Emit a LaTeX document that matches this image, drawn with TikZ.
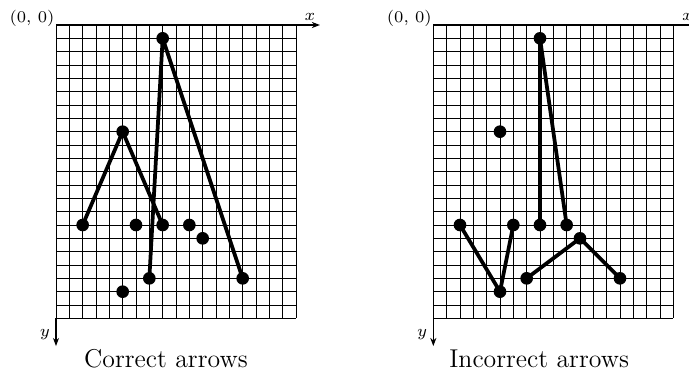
\documentclass[tikz,border=0pt]{standalone}
\usetikzlibrary{arrows.meta}

\begin{document}
\begin{tikzpicture}[x=0.2cm,y=-0.2cm,font=\scriptsize,
    gridline/.style={black,line width=0.4pt},
    axis/.style={black,line width=0.5pt,-{Stealth[length=3.5pt,width=2.6pt]}},
    dot/.style={circle,fill=black,inner sep=0pt,minimum size=1.9mm},
    trace/.style={black,line width=1.6pt,line join=round,line cap=round}]
    \useasboundingbox (-4.2,-1.875) rectangle (47.475,27);
    % two panels: same points, different connections
    \foreach \ox/\pn/\cx/\lbl in {0/L/8.25/Correct arrows, 28.3/R/7.94/Incorrect arrows} {
      \begin{scope}[shift={(\ox,0)}]
        \foreach \i in {0,...,18} \draw[gridline] (\i,0) -- (\i,22);
        \foreach \j in {0,...,22} \draw[gridline] (0,\j) -- (18,\j);
        \coordinate (\pn o) at (0,0);
        \coordinate (\pn xtip) at (19.8,0);
        \coordinate (\pn ybot) at (0,22);
        \coordinate (\pn ytip) at (0,24.08);
        \draw[axis] (\pn o) -- (\pn xtip);
        \draw[axis] (\pn ybot) -- (\pn ytip);
        \node (\pn xlab) at (19.05,-0.6) {$x$};
        \node (\pn ylab) at (-0.83,23.25) {$y$};
        \node (\pn olab) at (-1.8,-0.5) {(0, 0)};
        \node[font=\fontsize{11}{13}\selectfont] (\pn cap) at (\cx,25) {\lbl};
        \foreach \i/\j in {8/1, 5/8, 2/15, 6/15, 8/15, 10/15, 11/16, 7/19, 14/19, 5/20}
          \node[dot] (\pn\i-\j) at (\i,\j) {};
      \end{scope}
    }
    \draw[trace] (L2-15.center) -- (L5-8.center) -- (L8-15.center);
    \draw[trace] (L7-19.center) -- (L8-1.center) -- (L14-19.center);
    \draw[trace] (R2-15.center) -- (R5-20.center) -- (R6-15.center);
    \draw[trace] (R8-15.center) -- (R8-1.center) -- (R10-15.center);
    \draw[trace] (R7-19.center) -- (R11-16.center) -- (R14-19.center);
  \end{tikzpicture}
\end{document}
